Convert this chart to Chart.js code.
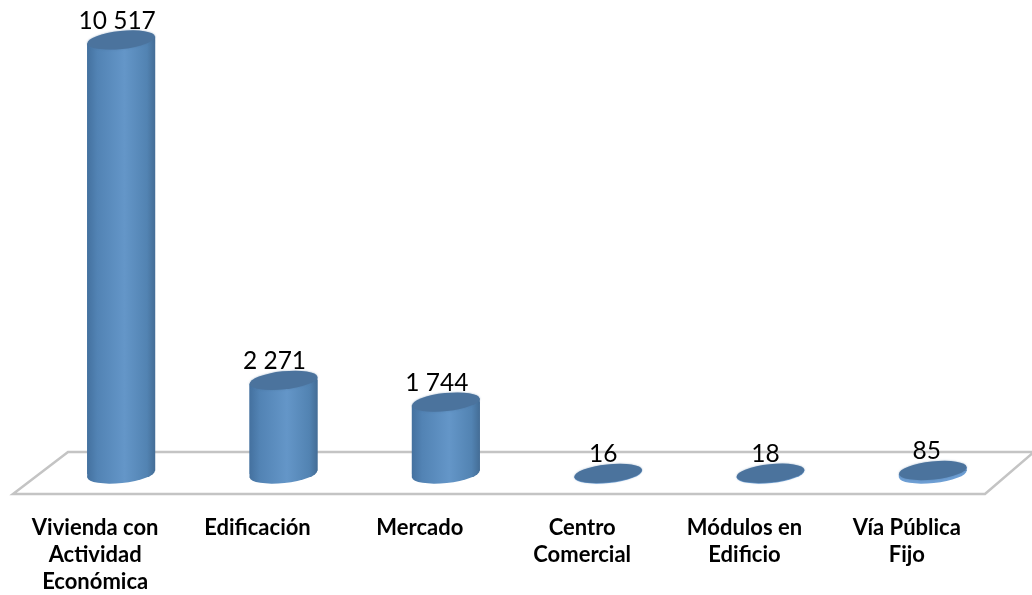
<!DOCTYPE html>
<html><head><meta charset="utf-8">
<style>html,body{margin:0;padding:0;background:#fff}canvas{display:block;filter:blur(0.6px)}</style>
<script src="https://cdn.jsdelivr.net/npm/chart.js@4"></script></head>
<body><canvas id="c" width="1032" height="595"></canvas>
<script>
const categories = [["Vivienda con","Actividad","Económica"],["Edificación"],["Mercado"],["Centro","Comercial"],["Módulos en","Edificio"],["Vía Pública","Fijo"]];
const values = [10517, 2271, 1744, 16, 18, 85];
const valueLabels = ["10 517","2 271","1 744","16","18","85"];
const labelShift = [-4,-9,-9,-5,-5,-6];

const TILT = -0.105, RY = 9;
function capGeom(el){ const rx = el.width/2; return {rx, dy: Math.tan(-TILT)*rx}; }
function bodyPath(ctx, el){
  const g = capGeom(el);
  ctx.moveTo(el.x-g.rx, el.y+g.dy);
  ctx.lineTo(el.x+g.rx, el.y-g.dy);
  ctx.lineTo(el.x+g.rx, el.base-g.dy);
  ctx.lineTo(el.x-g.rx, el.base+g.dy);
  ctx.closePath();
}

const cylinderPlugin = {
  id:'cylinder',
  beforeDatasetsDraw(chart){
    const {ctx, chartArea:a} = chart;
    const back = a.bottom-22, front = a.bottom+20;
    ctx.save();
    ctx.beginPath();
    ctx.moveTo(a.left+28, back); ctx.lineTo(a.right+20, back);
    ctx.lineTo(a.right-29, front); ctx.lineTo(a.left-27, front); ctx.closePath();
    ctx.fillStyle='#fff'; ctx.fill();
    ctx.lineWidth=2.5; ctx.lineJoin='miter'; ctx.strokeStyle='#c4c4c4'; ctx.stroke();
    ctx.restore();
  },
  beforeDatasetDraw(chart,args){
    const {ctx} = chart;
    const meta = args.meta;
    ctx.save();
    meta.data.forEach((el,i)=>{
      const g = capGeom(el);
      ctx.fillStyle = i>=3 ? '#6e9fd4' : el.options.backgroundColor;
      ctx.beginPath();
      ctx.ellipse(el.x, el.base, g.rx, RY, TILT, 0, Math.PI*2);
      ctx.fill();
      ctx.beginPath();
      bodyPath(ctx, el);
      ctx.fill();
    });
    ctx.beginPath();
    meta.data.forEach(el=>bodyPath(ctx, el));
    ctx.clip();
  },
  afterDatasetDraw(chart,args){
    const {ctx} = chart;
    ctx.restore();
    args.meta.data.forEach((el,i)=>{
      const g = capGeom(el);
      ctx.save();
      ctx.beginPath();
      ctx.ellipse(el.x, el.y, g.rx, RY, TILT, 0, Math.PI*2);
      ctx.fillStyle='#4b739d';
      ctx.shadowColor='rgba(75,115,157,.6)'; ctx.shadowBlur=2;
      ctx.fill();
      ctx.restore();
      ctx.save();
      ctx.font='24.5px Lato, Carlito, sans-serif';
      ctx.fillStyle='#000'; ctx.textAlign='center'; ctx.textBaseline='middle';
      ctx.fillText(valueLabels[i], el.x+labelShift[i], el.y-19);
      ctx.restore();
    });
  }
};

new Chart(document.getElementById('c'),{
  type:'bar',
  data:{labels:categories,datasets:[{
    data:values,
    barThickness:68,
    borderWidth:0,
    backgroundColor(ctx){
      const sc = ctx.chart.scales.x;
      if(!sc || !ctx.chart.chartArea) return '#5b8dbf';
      const x = sc.getPixelForValue(ctx.dataIndex);
      const g = ctx.chart.ctx.createLinearGradient(x-34,0,x+34,0);
      g.addColorStop(0,'#44719f'); g.addColorStop(.15,'#5283b4');
      g.addColorStop(.55,'#6496c8'); g.addColorStop(.88,'#5283b2'); g.addColorStop(1,'#446d96');
      return g;
    }
  }]},
  options:{
    responsive:false,animation:false,
    layout:{padding:{left:40,right:18,top:0,bottom:0}},
    plugins:{legend:{display:false},tooltip:{enabled:false}},
    scales:{
      y:{display:false,min:0,max:11486},
      x:{
        grid:{display:false},border:{display:false},
        afterFit(s){s.height=121;},
        ticks:{autoSkip:false,maxRotation:0,minRotation:0,labelOffset:-26,padding:32,color:'#000',
          font:{family:'Lato, Carlito, sans-serif',size:22,weight:'bold',lineHeight:'27px'}}
      }
    }
  },
  plugins:[cylinderPlugin]
});
</script></body></html>
